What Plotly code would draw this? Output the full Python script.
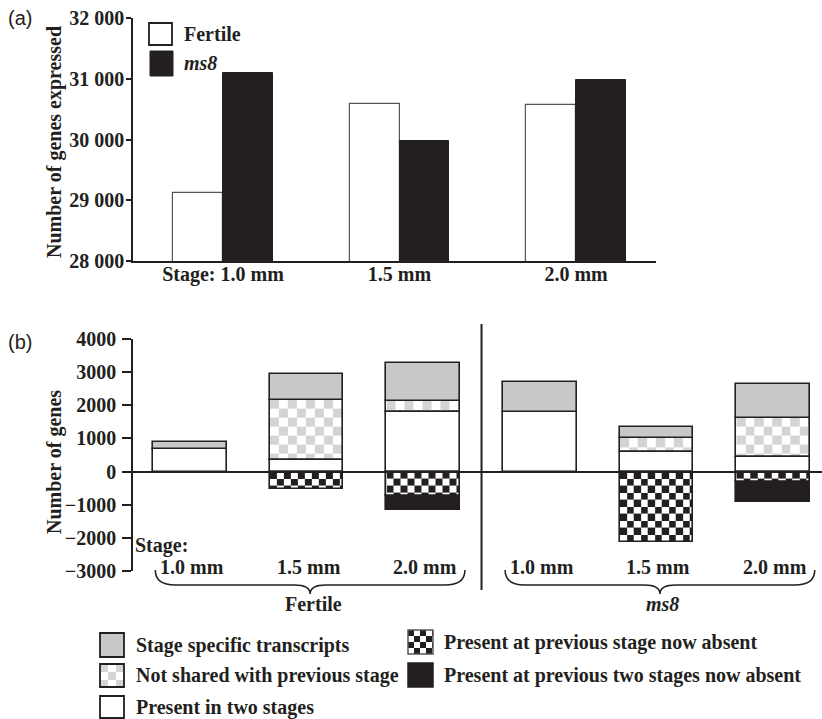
import base64
import plotly.graph_objects as go

W, H = 822, 719

# ---------------- Data ----------------
# Panel (a)
stages_a = ["Stage: 1.0 mm", "1.5 mm", "2.0 mm"]
fertile_total = [29120, 30590, 30560]
ms8_total = [31090, 29980, 30980]
yticks_a = [28000, 29000, 30000, 31000, 32000]
yticklabels_a = ["28 000", "29 000", "30 000", "31 000", "32 000"]

# Panel (b): Fertile 1.0, 1.5, 2.0 then ms8 1.0, 1.5, 2.0
groups_b = ["Fertile", "<i>ms8</i>"]
stages_b = ["1.0 mm", "1.5 mm", "2.0 mm"]
present_two = [680, 360, 1810, 1810, 580, 430]
not_shared = [0, 1810, 330, 0, 435, 1200]
stage_specific = [200, 775, 1150, 890, 320, 1010]
prev_absent = [0, -520, -750, 0, -2120, -320]
prev_two_absent = [0, 0, -400, 0, 0, -600]
yticks_b = [-3000, -2000, -1000, 0, 1000, 2000, 3000, 4000]
yticklabels_b = ["\u22123000", "\u22122000", "\u22121000", "0", "1000", "2000", "3000", "4000"]
legend_b_left = ["Stage specific transcripts", "Not shared with previous stage", "Present in two stages"]
legend_b_right = ["Present at previous stage now absent", "Present at previous two stages now absent"]

# ---------------- Styling ----------------
INK = "#231f20"
GREY = "#c7c8ca"
LIGHT = "#d3d4d6"
SERIF = "Liberation Serif"
FONT = dict(family=SERIF, size=20, color=INK, weight="bold")


def fx(px):
    return px / W


def fy(py):
    return 1 - py / H


xa_dom = [fx(133), fx(656)]
ya_dom = [fy(261), fy(18)]
xb_dom = [fx(133), 1.0]
yb_dom = [fy(571), fy(339)]
xa_range = [-0.51, 2.453]
xb_range = [-0.489, 5.42]
yb_range = [-3000, 4000]
wa = 0.283
wb = 0.63

pxx_b = W * (xb_dom[1] - xb_dom[0]) / (xb_range[1] - xb_range[0])
pyy_b = H * (yb_dom[1] - yb_dom[0]) / (yb_range[1] - yb_range[0])


def checker_uri(wpx, hpx, cell, color):
    c2 = 2 * cell
    svg = (
        f'<svg xmlns="http://www.w3.org/2000/svg" width="{wpx:.2f}" height="{hpx:.2f}" '
        f'viewBox="0 0 {wpx:.2f} {hpx:.2f}" preserveAspectRatio="none" shape-rendering="crispEdges">'
        f'<defs><pattern id="c" width="{c2}" height="{c2}" patternUnits="userSpaceOnUse">'
        f'<rect width="{c2}" height="{c2}" fill="#ffffff"/>'
        f'<rect width="{cell}" height="{cell}" fill="{color}"/>'
        f'<rect x="{cell}" y="{cell}" width="{cell}" height="{cell}" fill="{color}"/>'
        f'</pattern></defs><rect x="0" y="0" width="{wpx:.2f}" height="{hpx:.2f}" fill="url(#c)"/></svg>'
    )
    return "data:image/svg+xml;base64," + base64.b64encode(svg.encode()).decode()


def nz(v):
    return [x if x != 0 else None for x in v]


fig = go.Figure()

# ---------------- Panel (a) ----------------
xa = list(range(len(stages_a)))
fig.add_trace(go.Bar(x=[i - wa / 2 for i in xa], y=fertile_total, width=wa, xaxis="x", yaxis="y",
                     marker=dict(color="white", line=dict(color="#555555", width=1.2)),
                     name="Fertile", showlegend=False))
fig.add_trace(go.Bar(x=[i + wa / 2 for i in xa], y=ms8_total, width=wa, xaxis="x", yaxis="y",
                     marker=dict(color=INK, line=dict(color=INK, width=1)),
                     name="ms8", showlegend=False))

# ---------------- Panel (b) ----------------
xb = list(range(len(present_two)))
bar_line = dict(color=INK, width=1.6)
fig.add_trace(go.Bar(x=xb, y=nz(present_two), width=wb, xaxis="x2", yaxis="y2",
                     marker=dict(color="white", line=bar_line), name=legend_b_left[2], showlegend=False))
fig.add_trace(go.Bar(x=xb, y=nz(not_shared), width=wb, xaxis="x2", yaxis="y2",
                     marker=dict(color="rgba(0,0,0,0)", line=bar_line), name=legend_b_left[1], showlegend=False))
fig.add_trace(go.Bar(x=xb, y=nz(stage_specific), width=wb, xaxis="x2", yaxis="y2",
                     marker=dict(color=GREY, line=bar_line), name=legend_b_left[0], showlegend=False))
fig.add_trace(go.Bar(x=xb, y=nz(prev_absent), width=wb, xaxis="x2", yaxis="y2",
                     marker=dict(color="rgba(0,0,0,0)", line=bar_line), name=legend_b_right[0], showlegend=False))
fig.add_trace(go.Bar(x=xb, y=nz(prev_two_absent), width=wb, xaxis="x2", yaxis="y2",
                     marker=dict(color=INK, line=bar_line), name=legend_b_right[1], showlegend=False))

images = []
for i in xb:
    if not_shared[i]:
        top = present_two[i] + not_shared[i]
        wpx, hpx = wb * pxx_b, not_shared[i] * pyy_b
        images.append(dict(source=checker_uri(wpx, hpx, 9, LIGHT), xref="x2", yref="y2",
                           x=i - wb / 2, y=top, sizex=wb, sizey=not_shared[i],
                           xanchor="left", yanchor="top", sizing="stretch", layer="below"))
    if prev_absent[i]:
        h = -prev_absent[i]
        wpx, hpx = wb * pxx_b, h * pyy_b
        images.append(dict(source=checker_uri(wpx, hpx, 7, INK), xref="x2", yref="y2",
                           x=i - wb / 2, y=0, sizex=wb, sizey=h,
                           xanchor="left", yanchor="top", sizing="stretch", layer="below"))

# legend checker icons (b)
images.append(dict(source=checker_uri(24, 23, 8, LIGHT), xref="paper", yref="paper",
                   x=fx(100), y=fy(664), sizex=24 / W, sizey=23 / H,
                   xanchor="left", yanchor="top", sizing="stretch", layer="above"))
images.append(dict(source=checker_uri(25, 24, 6, INK), xref="paper", yref="paper",
                   x=fx(408), y=fy(630), sizex=25 / W, sizey=24 / H,
                   xanchor="left", yanchor="top", sizing="stretch", layer="above"))

shapes = []
annotations = []

# divider line in (b)
shapes.append(dict(type="line", xref="x2", yref="paper", x0=2.5, x1=2.5, y0=fy(590), y1=fy(324),
                   line=dict(color=INK, width=2)))

# braces
for g in range(2):
    x0 = g * 3 - wb / 2 + 2 / pxx_b
    x1 = g * 3 + 2 + wb / 2 + 5 / pxx_b
    xc = (x0 + x1) / 2
    d1 = 20 / pxx_b
    d2 = 16 / pxx_b
    yt, yh, ytip = fy(570), fy(585), fy(594)
    path = (f"M {x0},{yt} Q {x0},{yh} {x0 + d1},{yh} L {xc - d2},{yh} "
            f"Q {xc},{yh} {xc},{ytip} Q {xc},{yh} {xc + d2},{yh} "
            f"L {x1 - d1},{yh} Q {x1},{yh} {x1},{yt}")
    shapes.append(dict(type="path", xref="x2", yref="paper", path=path,
                       line=dict(color=INK, width=1.5)))
    annotations.append(dict(text=groups_b[g], xref="x2", yref="paper", x=xc + 3 / pxx_b, y=fy(604),
                            showarrow=False, font=FONT, xanchor="center", yanchor="middle"))

# stage labels (b)
for i in xb:
    annotations.append(dict(text=stages_b[i % 3], xref="x2", yref="paper", x=i + 2 / pxx_b, y=fy(567),
                            showarrow=False, font=FONT, xanchor="center", yanchor="middle"))
annotations.append(dict(text="Stage:", xref="paper", yref="paper", x=fx(133), y=fy(545),
                        showarrow=False, font=FONT, xanchor="left", yanchor="middle"))

# axis titles
annotations.append(dict(text="Number of genes expressed", xref="paper", yref="paper",
                        x=fx(54), y=fy(142), textangle=-90, showarrow=False, font=FONT,
                        xanchor="center", yanchor="middle"))
annotations.append(dict(text="Number of genes", xref="paper", yref="paper",
                        x=fx(54), y=fy(462), textangle=-90, showarrow=False, font=FONT,
                        xanchor="center", yanchor="middle"))

# panel letters
for txt, yy in (("(a)", 18), ("(b)", 342)):
    annotations.append(dict(text=txt, xref="paper", yref="paper", x=fx(6), y=fy(yy),
                            showarrow=False, xanchor="left", yanchor="middle",
                            font=dict(family="Liberation Sans", size=20, color=INK)))

# legend (a)
shapes.append(dict(type="rect", xref="paper", yref="paper", x0=fx(149), x1=fx(172), y0=fy(45), y1=fy(23),
                   line=dict(color=INK, width=1.8), fillcolor="white"))
shapes.append(dict(type="rect", xref="paper", yref="paper", x0=fx(150), x1=fx(173), y0=fy(76), y1=fy(51),
                   line=dict(color=INK, width=1), fillcolor=INK))
annotations.append(dict(text="Fertile", xref="paper", yref="paper", x=fx(182), y=fy(34),
                        showarrow=False, font=FONT, xanchor="left", yanchor="middle"))
annotations.append(dict(text="<i>ms8</i>", xref="paper", yref="paper", x=fx(182), y=fy(63),
                        showarrow=False, font=FONT, xanchor="left", yanchor="middle"))

# legend (b)
left_boxes = [(633, 657, GREY), (664, 687, None), (696, 718, "white")]
for (t, b, col), lab in zip(left_boxes, legend_b_left):
    shapes.append(dict(type="rect", xref="paper", yref="paper", x0=fx(100), x1=fx(124), y0=fy(b), y1=fy(t),
                       line=dict(color=INK, width=1.8),
                       fillcolor=col if col else "rgba(0,0,0,0)", layer="above"))
    annotations.append(dict(text=lab, xref="paper", yref="paper", x=fx(134), y=fy((t + b) / 2),
                            showarrow=False, font=FONT, xanchor="left", yanchor="middle"))
right_boxes = [(630, 654, None), (663, 687, INK)]
for (t, b, col), lab in zip(right_boxes, legend_b_right):
    shapes.append(dict(type="rect", xref="paper", yref="paper", x0=fx(408), x1=fx(433), y0=fy(b), y1=fy(t),
                       line=dict(color="#555555" if col is None else INK, width=1.5),
                       fillcolor=col if col else "rgba(0,0,0,0)", layer="above"))
    annotations.append(dict(text=lab, xref="paper", yref="paper", x=fx(442), y=fy((t + b) / 2),
                            showarrow=False, font=FONT, xanchor="left", yanchor="middle"))

tickfont = dict(family=SERIF, size=20, color=INK, weight="bold")

fig.update_layout(
    width=W, height=H,
    margin=dict(l=0, r=0, t=0, b=0, pad=0, autoexpand=False),
    paper_bgcolor="white", plot_bgcolor="rgba(0,0,0,0)",
    barmode="relative", bargap=0,
    showlegend=False,
    xaxis=dict(domain=xa_dom, range=xa_range, anchor="y", tickvals=xa, ticktext=stages_a,
               ticks="", showline=True, linecolor=INK, linewidth=2, showgrid=False, zeroline=False,
               tickfont=tickfont, ticklabelstandoff=-6, automargin=False),
    yaxis=dict(domain=ya_dom, range=[yticks_a[0], yticks_a[-1]], anchor="x", tickvals=yticks_a,
               ticktext=yticklabels_a, ticks="outside", ticklen=5, tickwidth=1.5, tickcolor=INK,
               showline=True, linecolor=INK, linewidth=1.5, showgrid=False, zeroline=False,
               tickfont=tickfont, ticklabelstandoff=-2, automargin=False),
    xaxis2=dict(domain=xb_dom, range=xb_range, anchor="y2", showticklabels=False, ticks="",
                showline=False, showgrid=False, zeroline=False, automargin=False),
    yaxis2=dict(domain=yb_dom, range=yb_range, anchor="x2", tickvals=yticks_b, ticktext=yticklabels_b,
                ticks="outside", ticklen=9, tickwidth=1.5, tickcolor=INK,
                showline=True, linecolor=INK, linewidth=1.5, showgrid=False,
                zeroline=True, zerolinecolor=INK, zerolinewidth=1.5,
                tickfont=tickfont, ticklabelstandoff=2, automargin=False),
    shapes=shapes, annotations=annotations, images=images,
)

fig.write_html("out.html")
